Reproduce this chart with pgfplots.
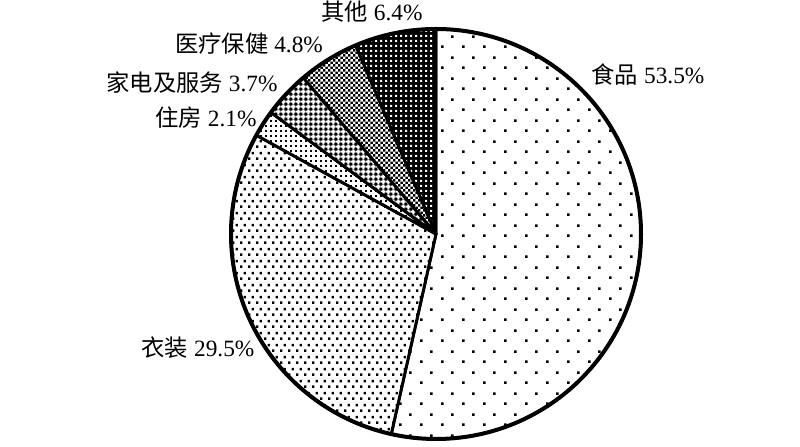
\documentclass[border=0pt]{standalone}
\usepackage{pgfplots}
\pgfplotsset{compat=1.18}
\usepackage{pgfplotstable}
\usetikzlibrary{patterns}
\usepackage{fontspec}
\setmainfont{Liberation Serif}
\newfontfamily\cjk{Noto Sans CJK SC}

% fill patterns of the slices (1 px of the reference = 0.75pt)
\pgfdeclarepatternformonly{foodpat}{\pgfpointorigin}{\pgfqpoint{15.75pt}{15.75pt}}{\pgfqpoint{15.75pt}{15.75pt}}{%
  \pgfpathrectangle{\pgfqpoint{0pt}{0pt}}{\pgfqpoint{2.1pt}{2.1pt}}%
  \pgfpathrectangle{\pgfqpoint{7.875pt}{7.875pt}}{\pgfqpoint{2.1pt}{2.1pt}}%
  \pgfusepath{fill}}
\pgfdeclarepatternformonly{clothpat}{\pgfpointorigin}{\pgfqpoint{6pt}{8.7pt}}{\pgfqpoint{6pt}{8.7pt}}{%
  \pgfpathrectangle{\pgfqpoint{0pt}{0pt}}{\pgfqpoint{2pt}{2pt}}%
  \pgfpathrectangle{\pgfqpoint{3pt}{4.35pt}}{\pgfqpoint{2pt}{2pt}}%
  \pgfusepath{fill}}
\pgfdeclarepatternformonly{housepat}{\pgfpointorigin}{\pgfqpoint{3.75pt}{3.75pt}}{\pgfqpoint{3.75pt}{3.75pt}}{%
  \pgfpathrectangle{\pgfqpoint{0pt}{0pt}}{\pgfqpoint{1.6pt}{1.6pt}}%
  \pgfusepath{fill}}
\pgfdeclarepatternformonly{homepat}{\pgfpointorigin}{\pgfqpoint{4pt}{4pt}}{\pgfqpoint{4pt}{4pt}}{%
  \pgfpathrectangle{\pgfqpoint{0.2pt}{1.2pt}}{\pgfqpoint{3.6pt}{1.6pt}}%
  \pgfpathrectangle{\pgfqpoint{1.2pt}{0.2pt}}{\pgfqpoint{1.6pt}{3.6pt}}%
  \pgfusepath{fill}}
\pgfdeclarepatternformonly{medpat}{\pgfpointorigin}{\pgfqpoint{4pt}{4pt}}{\pgfqpoint{4pt}{4pt}}{%
  \pgfpathrectangle{\pgfqpoint{0pt}{0pt}}{\pgfqpoint{2pt}{2pt}}%
  \pgfpathrectangle{\pgfqpoint{2pt}{2pt}}{\pgfqpoint{2pt}{2pt}}%
  \pgfusepath{fill}}
\pgfdeclarepatternformonly{otherpat}{\pgfpointorigin}{\pgfqpoint{3.75pt}{3.75pt}}{\pgfqpoint{3.75pt}{3.75pt}}{%
  \pgfpathrectangle{\pgfqpoint{0pt}{0pt}}{\pgfqpoint{1.8pt}{1.8pt}}%
  \pgfusepath{fill}}

% share (%), pattern, background/pattern colour, label position (px, from top left)
\pgfplotstableread{
name pct pat bg fg lx ly
食品 53.5 foodpat white black 648 75
衣装 29.5 clothpat white black 198 348
住房 2.1 housepat white black 206 118
家电及服务 3.7 homepat black white 192 83
医疗保健 4.8 medpat black white 249 44
其他 6.4 otherpat black white 372 12
}\piedata

\begin{document}
\begin{tikzpicture}
\begin{axis}[
  width=600pt, height=334.5pt, scale only axis,
  xmin=0, xmax=800, ymin=0, ymax=446,
  hide axis, clip=false
]
  \path (axis cs:0,0) rectangle (axis cs:800,446);
  \def\r{153.75pt}
  \def\angstart{90}
  \pgfplotstablegetrowsof{\piedata}
  \pgfmathtruncatemacro\last{\pgfplotsretval-1}
  \pgfplotsforeachungrouped \i in {0,...,\last}{
    \pgfplotstablegetelem{\i}{pct}\of\piedata \let\pct\pgfplotsretval
    \pgfplotstablegetelem{\i}{pat}\of\piedata \let\pat\pgfplotsretval
    \pgfplotstablegetelem{\i}{bg}\of\piedata \let\bg\pgfplotsretval
    \pgfplotstablegetelem{\i}{fg}\of\piedata \let\fg\pgfplotsretval
    \pgfplotstablegetelem{\i}{name}\of\piedata \let\nm\pgfplotsretval
    \pgfplotstablegetelem{\i}{lx}\of\piedata \let\lx\pgfplotsretval
    \pgfplotstablegetelem{\i}{ly}\of\piedata \let\ly\pgfplotsretval
    \pgfmathsetmacro\angend{\angstart-3.6*\pct}
    \pgfmathsetmacro\lyy{446-\ly}
    \edef\doslice{%
      \noexpand\fill[\bg] (axis cs:436,212) -- ++(\angstart:\r)
        arc[start angle=\angstart, end angle=\angend, radius=\r] -- cycle;
      \noexpand\fill[pattern=\pat, pattern color=\fg] (axis cs:436,212) -- ++(\angstart:\r)
        arc[start angle=\angstart, end angle=\angend, radius=\r] -- cycle;
      \noexpand\draw[line width=2.2pt, line join=round] (axis cs:436,212) -- ++(\angstart:\r)
        arc[start angle=\angstart, end angle=\angend, radius=\r] -- cycle;
      \noexpand\node[font=\noexpand\fontsize{17.5pt}{20pt}\noexpand\selectfont, inner sep=0pt]
        at (axis cs:\lx,\lyy) {{\noexpand\cjk \nm}\noexpand\ \pct\noexpand\%};
    }
    \doslice
    \let\angstart\angend
  }
  \draw[line width=3pt] (axis cs:436,212) circle[radius=\r];
\end{axis}
\end{tikzpicture}
\end{document}
